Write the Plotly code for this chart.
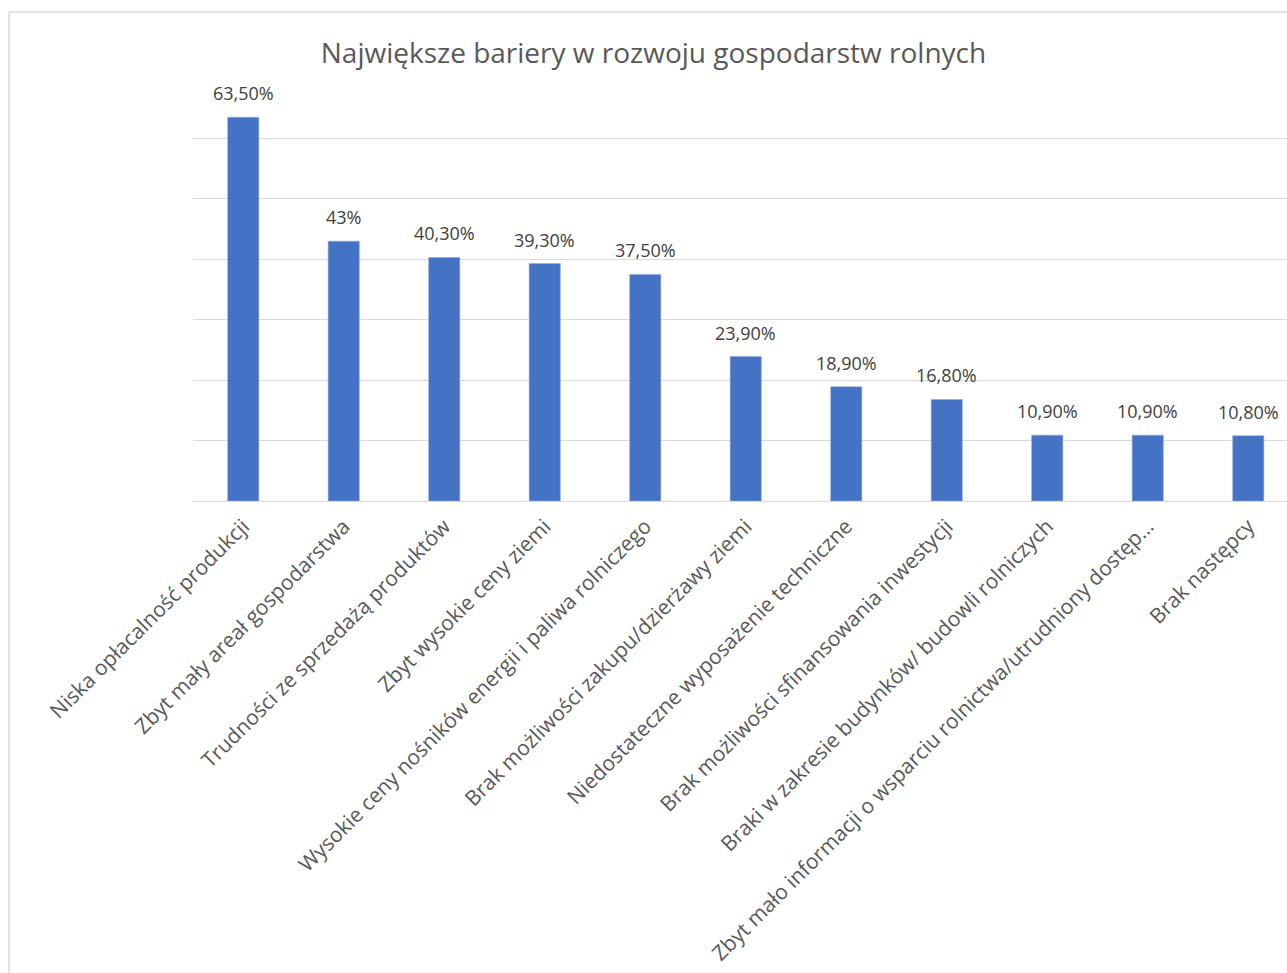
import plotly.graph_objects as go

categories = [
    "Niska opłacalność produkcji",
    "Zbyt mały areał gospodarstwa",
    "Trudności ze sprzedażą produktów",
    "Zbyt wysokie ceny ziemi",
    "Wysokie ceny nośników energii i paliwa rolniczego",
    "Brak możliwości zakupu/dzierżawy ziemi",
    "Niedostateczne wyposażenie techniczne",
    "Brak możliwości sfinansowania inwestycji",
    "Braki w zakresie budynków/ budowli rolniczych",
    "Zbyt mało informacji o wsparciu rolnictwa/utrudniony dostęp…",
    "Brak następcy",
]
values = [63.5, 43.0, 40.3, 39.3, 37.5, 23.9, 18.9, 16.8, 10.9, 10.9, 10.8]
value_labels = ["63,50%", "43%", "40,30%", "39,30%", "37,50%", "23,90%",
                "18,90%", "16,80%", "10,90%", "10,90%", "10,80%"]
title = "Największe bariery w rozwoju gospodarstw rolnych"

FONT = "Open Sans"
W, H = 1287, 973
# screen pixel positions of the plot area
SX0, SX1, SY0, SY1 = 193, 1298.5, 78, 501
L = SX0
T = SY0
B = H - SY1
R = 0
px_w = W - L - R
px_h = H - T - B

def xp(sx):
    return (sx - SX0) / px_w

def yp(sy):
    return (SY1 - sy) / px_h

fig = go.Figure(go.Bar(
    x=list(range(len(categories))),
    y=values,
    marker=dict(color="#4472C4", line=dict(color="#8FAADC", width=0.6)),
    hoverinfo="skip",
))

for i, (v, t) in enumerate(zip(values, value_labels)):
    fig.add_annotation(x=i, y=v, text=t, showarrow=False, yanchor="middle",
                       yshift=24, font=dict(family=FONT, size=18, color="#404040"))

fig.add_shape(type="line", xref="paper", yref="paper",
              x0=xp(9), x1=xp(1320), y0=yp(12), y1=yp(12),
              line=dict(color="#D9D9D9", width=1.5))
fig.add_shape(type="line", xref="paper", yref="paper",
              x0=xp(9), x1=xp(9), y0=yp(12), y1=yp(1000),
              line=dict(color="#D9D9D9", width=1.5))

x_hi = 10.5 - (SX1 - W) / ((SX1 - SX0) / 11)

fig.update_layout(
    width=W, height=H,
    margin=dict(l=L, r=R, t=T, b=B, autoexpand=False),
    paper_bgcolor="white", plot_bgcolor="white",
    bargap=0.69,
    showlegend=False,
    title=dict(text=title, x=653.5 / W, xanchor="center",
               y=1 - 53 / H, yanchor="middle",
               font=dict(family=FONT, size=28, color="#595959")),
    xaxis=dict(
        tickmode="array",
        tickvals=list(range(len(categories))),
        ticktext=categories,
        tickangle=-45,
        range=[-0.5, x_hi],
        showgrid=False, zeroline=False, showline=False,
        ticks="", ticklabelstandoff=8,
        tickfont=dict(family=FONT, size=21, color="#595959"),
    ),
    yaxis=dict(
        range=[0, 70], dtick=10, showticklabels=False,
        showgrid=True, gridcolor="#D9D9D9", gridwidth=1.3,
        zeroline=True, zerolinecolor="#D9D9D9", zerolinewidth=1.3,
        showline=False, ticks="",
    ),
)

fig.write_html(
    "out.html",
    config={"displayModeBar": False},
    post_script="document.body.style.margin='0';document.body.style.overflow='hidden';",
)
